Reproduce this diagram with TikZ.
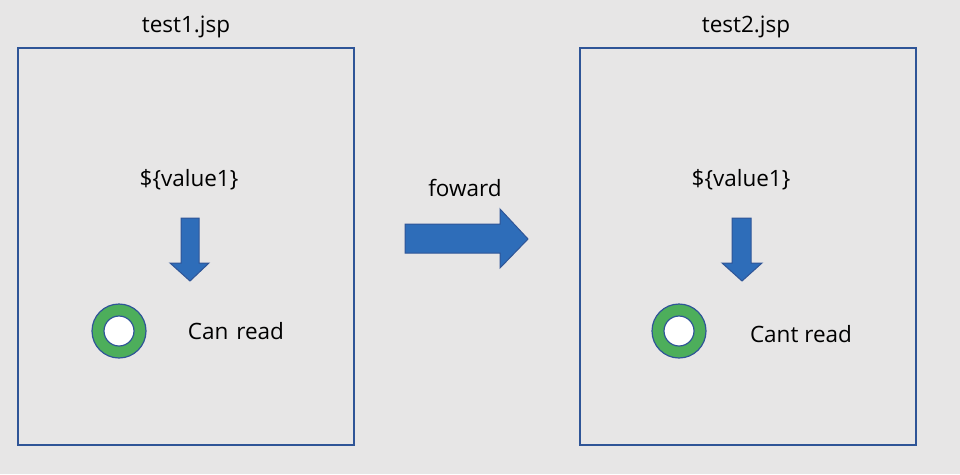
\documentclass[tikz,border=0pt]{standalone}
\usepackage{fontspec}
\setmainfont{Open Sans}
\definecolor{bg}{HTML}{E7E6E6}
\definecolor{edge}{HTML}{2F5597}
\definecolor{arrowfill}{HTML}{2E6DB9}
\definecolor{ringgreen}{HTML}{4DAE5B}
\tikzset{
  page/.style={draw=edge, line width=1.2pt, fill=none, minimum width=336pt, minimum height=397pt, inner sep=0pt},
  lbl/.style={font=\fontsize{22.5}{26}\selectfont, text=black, inner sep=0pt},
  blockarrow/.style={draw=edge, line width=1pt, fill=arrowfill, line join=miter},
  ringouter/.style={circle, draw=edge, line width=1.2pt, fill=ringgreen, minimum width=54pt, minimum height=53pt, inner sep=0pt},
  ringinner/.style={circle, draw=edge, line width=1.2pt, fill=white, minimum width=30pt, minimum height=29pt, inner sep=0pt}
}
\begin{document}
\begin{tikzpicture}[x=1pt,y=-1pt]
\fill[bg] (0,0) rectangle (960,474);
\useasboundingbox (0,0) rectangle (960,474);
% pages
\node[page] (p1) at (186,246.5) {};
\node[page] (p2) at (748,246.5) {};
\node[lbl] (t1) at (186,27) {test1.jsp};
\node[lbl] (t2) at (746,27) {test2.jsp};
% values
\node[lbl] (v1) at (189,180) {\$\{value1\}};
\node[lbl] (v2) at (741,180) {\$\{value1\}};
% down arrows
\draw[blockarrow] (181,218) -- (199,218) -- (199,263) -- (209,263) -- (190,281) -- (170,263) -- (181,263) -- cycle;
\draw[blockarrow] (732,218) -- (751,218) -- (751,263) -- (762,263) -- (742,281) -- (722,263) -- (732,263) -- cycle;
% rings
\node[ringouter] (r1) at (119,331) {};
\node[ringinner] (r1i) at (r1.center) {};
\node[ringouter] (r2) at (679,331) {};
\node[ringinner] (r2i) at (r2.center) {};
% status text
\node[lbl] (s1) at (236,331) {Can\hspace{2pt} read};
\node[lbl] (s2) at (801,334) {Cant read};
% forward arrow
\draw[blockarrow] (405,224) -- (500,224) -- (500,209) -- (528,239) -- (500,268) -- (500,253) -- (405,253) -- cycle;
\node[lbl] (fw) at (465,188) {foward};
\end{tikzpicture}
\end{document}
